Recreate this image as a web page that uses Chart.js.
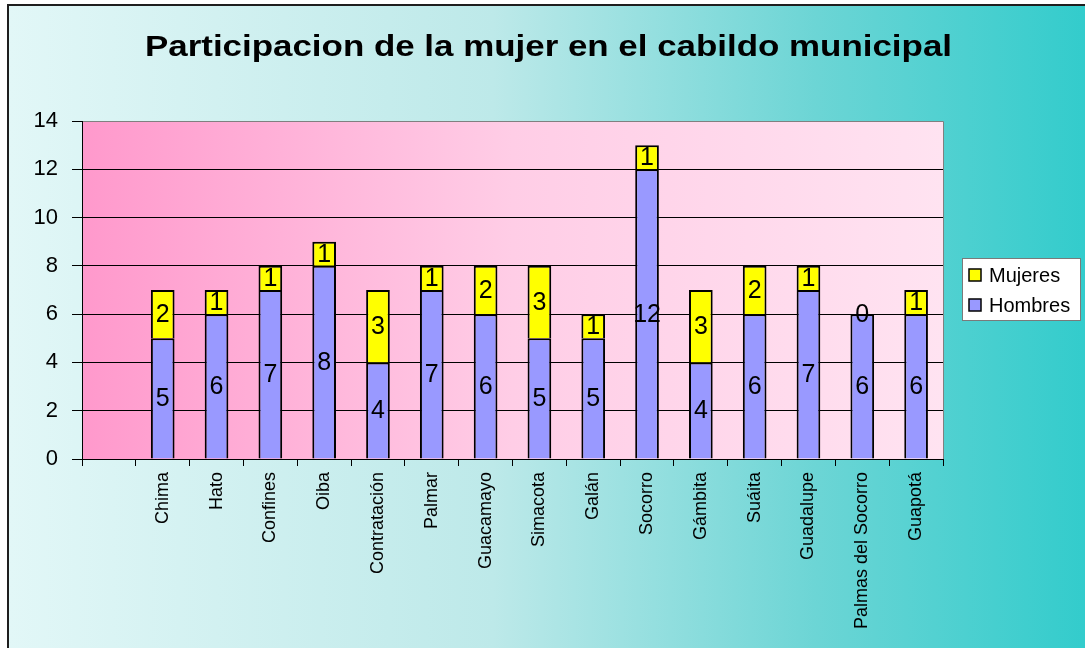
<!DOCTYPE html>
<html>
<head>
<meta charset="utf-8">
<title>Participacion de la mujer en el cabildo municipal</title>
<script src="https://cdn.jsdelivr.net/npm/chart.js@4.4.1/dist/chart.umd.min.js"></script>
<style>
    html, body { margin: 0; padding: 0; background: #fff; overflow: hidden; }
    canvas { display: block; }
</style>
</head>
<body>
<canvas id="chart" width="1085" height="648"></canvas>
<script>
(function () {
    'use strict';

    // datos (la primera categoría va vacía, como en el original)
    const municipios = ['', 'Chima', 'Hato', 'Confines', 'Oiba', 'Contratación', 'Palmar', 'Guacamayo',
        'Simacota', 'Galán', 'Socorro', 'Gámbita', 'Suáita', 'Guadalupe', 'Palmas del Socorro', 'Guapotá'];
    const hombres = [null, 5, 6, 7, 8, 4, 7, 6, 5, 5, 12, 4, 6, 7, 6, 6];
    const mujeres = [null, 2, 1, 1, 1, 3, 1, 2, 3, 1, 1, 3, 2, 1, 0, 1];
    const yTicks = [0, 2, 4, 6, 8, 10, 12, 14];

    const TITLE = 'Participacion de la mujer en el cabildo municipal';

    const COLORS = {
        hombres: '#9999ff',
        mujeres: '#ffff00',
        border: '#000000',
        plotEdge: '#808080',
        text: '#000000',
    };

    const FONT = 'Arial, "Liberation Sans", sans-serif';

    // fondo del gráfico, marco, área de trazado
    const backgroundPlugin = {
        id: 'fondo',
        beforeDraw(chart) {
            const ctx = chart.ctx;
            const w = chart.width, h = chart.height;
            const a = chart.chartArea;
            ctx.save();
            ctx.fillStyle = '#ffffff';
            ctx.fillRect(0, 0, w, h);

            const g = ctx.createLinearGradient(8, 0, w, 0);
            g.addColorStop(0, '#e2f7f7');
            g.addColorStop(0.45, '#bde9e9');
            g.addColorStop(0.75, '#6cd5d5');
            g.addColorStop(1, '#33cccc');
            ctx.fillStyle = g;
            ctx.fillRect(8, 5, w - 8, h - 5);

            ctx.strokeStyle = '#1e1e1e';
            ctx.lineWidth = 2;
            ctx.beginPath();
            ctx.moveTo(8, h);
            ctx.lineTo(8, 5);
            ctx.lineTo(w, 5);
            ctx.stroke();

            const pg = ctx.createLinearGradient(a.left, 0, a.right, 0);
            pg.addColorStop(0, '#ff99cc');
            pg.addColorStop(0.5, '#ffcde6');
            pg.addColorStop(1, '#ffe3f1');
            ctx.fillStyle = pg;
            ctx.fillRect(a.left, a.top, a.right - a.left, a.bottom - a.top);

            ctx.strokeStyle = COLORS.plotEdge;
            ctx.lineWidth = 1;
            ctx.beginPath();
            ctx.moveTo(a.left, a.top + 0.5);
            ctx.lineTo(a.right + 0.5, a.top + 0.5);
            ctx.lineTo(a.right + 0.5, a.bottom);
            ctx.stroke();

            // título
            ctx.fillStyle = COLORS.text;
            ctx.font = 'bold 30px ' + FONT;
            ctx.textAlign = 'left';
            ctx.textBaseline = 'alphabetic';
            const tw = ctx.measureText(TITLE).width;
            const sx = 807 / tw;
            ctx.translate(145, 56);
            ctx.scale(sx, 1);
            ctx.fillText(TITLE, 0, 0);
            ctx.restore();
        },
    };

    // etiquetas de valor y leyenda
    const labelsPlugin = {
        id: 'etiquetas',
        afterDatasetsDraw(chart) {
            const ctx = chart.ctx;
            ctx.save();
            ctx.fillStyle = COLORS.text;
            ctx.font = '25px ' + FONT;
            ctx.textAlign = 'center';
            ctx.textBaseline = 'middle';
            chart.data.datasets.forEach((ds, i) => {
                const meta = chart.getDatasetMeta(i);
                meta.data.forEach((el, j) => {
                    const v = ds.data[j];
                    if (v === null || v === undefined) return;
                    const p = el.getCenterPoint();
                    ctx.fillText(String(v), p.x, p.y + 1);
                });
            });

            // leyenda (orden inverso, como en Excel)
            const lx = 962, ly = 258, lw = 118, lh = 62;
            ctx.fillStyle = '#ffffff';
            ctx.fillRect(lx, ly, lw, lh);
            ctx.strokeStyle = '#7a7a7a';
            ctx.lineWidth = 1;
            ctx.strokeRect(lx + 0.5, ly + 0.5, lw, lh);

            const items = chart.data.datasets.slice().reverse();
            ctx.font = '20px ' + FONT;
            ctx.textAlign = 'left';
            items.forEach((ds, k) => {
                const cy = ly + 17 + k * 30;
                ctx.fillStyle = ds.backgroundColor;
                ctx.fillRect(969, cy - 6, 12, 12);
                ctx.strokeStyle = COLORS.border;
                ctx.lineWidth = 1.5;
                ctx.strokeRect(969, cy - 6, 12, 12);
                ctx.fillStyle = COLORS.text;
                ctx.fillText(ds.label, 989, cy + 1);
            });
            ctx.restore();
        },
    };

    const ctx = document.getElementById('chart').getContext('2d');

    new Chart(ctx, {
        type: 'bar',
        data: {
            labels: municipios,
            datasets: [
                {
                    label: 'Hombres',
                    data: hombres,
                    backgroundColor: COLORS.hombres,
                    borderColor: COLORS.border,
                    borderWidth: 2,
                },
                {
                    label: 'Mujeres',
                    data: mujeres,
                    backgroundColor: COLORS.mujeres,
                    borderColor: COLORS.border,
                    borderWidth: 2,
                },
            ],
        },
        options: {
            responsive: false,
            animation: false,
            devicePixelRatio: 1,
            categoryPercentage: 1,
            barPercentage: 0.44,
            layout: {
                padding: { left: 0, right: 142, top: 121, bottom: 0 },
            },
            plugins: {
                legend: { display: false },
                title: { display: false },
                tooltip: { enabled: false },
            },
            scales: {
                x: {
                    stacked: true,
                    afterFit(scale) { scale.height = 189; },
                    border: { color: COLORS.border, width: 1 },
                    grid: {
                        offset: true,
                        drawOnChartArea: false,
                        drawTicks: true,
                        tickLength: 7,
                        tickColor: '#000',
                    },
                    ticks: {
                        autoSkip: false,
                        minRotation: 90,
                        maxRotation: 90,
                        padding: 6,
                        color: COLORS.text,
                        font: { family: FONT, size: 18 },
                    },
                },
                y: {
                    stacked: true,
                    min: yTicks[0],
                    max: yTicks[yTicks.length - 1],
                    afterFit(scale) { scale.width = 82; },
                    afterBuildTicks(scale) { scale.ticks = yTicks.map(v => ({ value: v })); },
                    border: { color: COLORS.border, width: 1 },
                    grid: {
                        color: c => (c.tick && c.tick.value === 14 ? COLORS.plotEdge : '#000'),
                        tickColor: '#000',
                        tickLength: 10,
                        lineWidth: 1,
                    },
                    ticks: {
                        padding: 14,
                        color: COLORS.text,
                        font: { family: FONT, size: 22 },
                    },
                },
            },
        },
        plugins: [backgroundPlugin, labelsPlugin],
    });
})();
</script>
</body>
</html>
